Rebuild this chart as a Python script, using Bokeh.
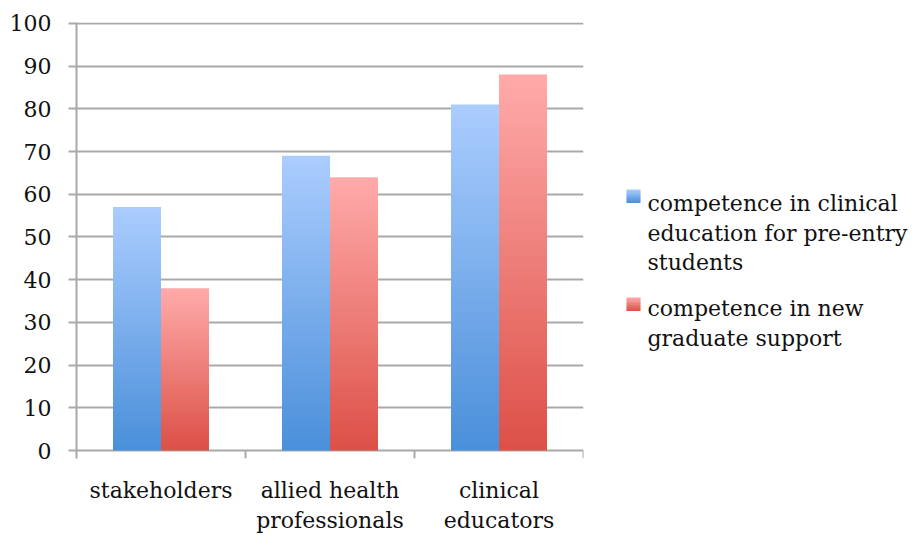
from bokeh.plotting import figure
from bokeh.models import Range1d, FactorRange, FixedTicker, ColumnDataSource
from bokeh.core.properties import value
from bokeh.layouts import row
from bokeh.transform import dodge
from bokeh.embed import file_html
from bokeh.resources import INLINE

# ---- data ----
categories = ["stakeholders", "allied health\nprofessionals", "clinical\neducators"]
series_lines = [["competence in clinical", "education for pre-entry", "students"],
                ["competence in new", "graduate support"]]
pre_entry = [57, 69, 81]
new_graduate = [38, 64, 88]
y_ticks = [0, 10, 20, 30, 40, 50, 60, 70, 80, 90, 100]

FONT = "DejaVu Serif"
FS = "22px"
TXT = "#111111"
GRID = "#a9a9a9"
BLUE = ("#4a8fda", "#abcdfe")   # bottom, top
RED = ("#dc5047", "#ffabaa")

TOP, BOTTOM = 22, 78

p = figure(x_range=FactorRange(*categories), y_range=Range1d(-1.87, 100.2),
           width=585, height=536, output_backend="svg", toolbar_location=None,
           min_border_left=76, min_border_top=TOP, min_border_bottom=BOTTOM,
           min_border_right=2)
p.outline_line_color = None
p.background_fill_color = "white"
p.border_fill_color = "white"


def hex2rgb(h):
    h = h.lstrip("#")
    return [int(h[i:i + 2], 16) for i in (0, 2, 4)]


def mix(c0, c1, t):
    a, b = hex2rgb(c0), hex2rgb(c1)
    return "#%02x%02x%02x" % tuple(int(round(a[i] + (b[i] - a[i]) * t)) for i in range(3))


def gradient_bars(values, offset, cols2, n=60):
    xs, tops, bottoms, cols = [], [], [], []
    for cat, v in zip(categories, values):
        for k in range(n):
            xs.append(cat)
            bottoms.append(v * k / n)
            tops.append(v * min(k + 1.6, n) / n)
            cols.append(mix(cols2[0], cols2[1], (k + 0.5) / n))
    src = ColumnDataSource(dict(x=xs, top=tops, bottom=bottoms, c=cols))
    p.vbar(x=dodge("x", offset, range=p.x_range), top="top", bottom="bottom",
           width=0.284, source=src, fill_color="c", line_color=None)


gradient_bars(pre_entry, -0.142, BLUE)
gradient_bars(new_graduate, 0.142, RED)

# category boundary ticks below the axis
tsrc = ColumnDataSource(dict(x=categories[1:]))
p.segment(x0=dodge("x", -0.5, range=p.x_range), x1=dodge("x", -0.5, range=p.x_range),
          y0=-1.87, y1=0, source=tsrc, line_color=GRID, line_width=2)
esrc = ColumnDataSource(dict(x=categories[-1:]))
p.segment(x0=dodge("x", 0.5, range=p.x_range), x1=dodge("x", 0.5, range=p.x_range),
          y0=-1.87, y1=0, source=esrc, line_color=GRID, line_width=2)

# axes
p.yaxis.ticker = FixedTicker(ticks=y_ticks)
p.yaxis.axis_line_color = GRID
p.yaxis.axis_line_width = 2
p.yaxis.major_tick_line_color = GRID
p.yaxis.major_tick_line_width = 2
p.yaxis.major_tick_out = 8
p.yaxis.major_tick_in = 0
p.yaxis.minor_tick_line_color = None
p.yaxis.major_label_text_font = FONT
p.yaxis.major_label_text_font_size = FS
p.yaxis.major_label_text_color = TXT
p.yaxis.major_label_standoff = 17

p.xaxis.axis_line_color = None
p.xaxis.major_tick_line_color = None
p.xaxis.minor_tick_line_color = None
p.xaxis.major_label_text_font = FONT
p.xaxis.major_label_text_font_size = FS
p.xaxis.major_label_text_color = TXT
p.xaxis.major_label_text_line_height = 1.22
p.xaxis.major_label_standoff = 13

p.xgrid.grid_line_color = None
p.ygrid.ticker = FixedTicker(ticks=y_ticks)
p.ygrid.grid_line_color = GRID
p.ygrid.grid_line_width = 2

# ---- legend panel (pixel coordinates, y downward, frame aligned with main frame) ----
leg = figure(width=328, height=536, x_range=Range1d(0, 328),
             y_range=Range1d(536 - BOTTOM, TOP),
             output_backend="svg", toolbar_location=None, min_border=0,
             min_border_top=TOP, min_border_bottom=BOTTOM)
leg.axis.visible = False
leg.grid.grid_line_color = None
leg.outline_line_color = None
leg.background_fill_color = "white"
leg.border_fill_color = "white"

entry_tops = [189, 297]
line_y0 = [203, 308]
for cols2, top, y0, lines in zip([BLUE, RED], entry_tops, line_y0, series_lines):
    n = 7
    for k in range(n):
        t = (k + 0.5) / n
        leg.quad(left=41, right=55, top=top + 13 * k / n, bottom=top + 13 * (k + 1.3) / n,
                 fill_color=mix(cols2[1], cols2[0], t), line_color=None)
    leg.text(x=[62] * len(lines), y=[y0 + 29.5 * i for i in range(len(lines))], text=lines,
             text_font=value(FONT), text_font_size=FS, text_color=TXT,
             text_baseline="middle", text_align="left")

open("out.html", "w").write(file_html(row(p, leg), INLINE))
